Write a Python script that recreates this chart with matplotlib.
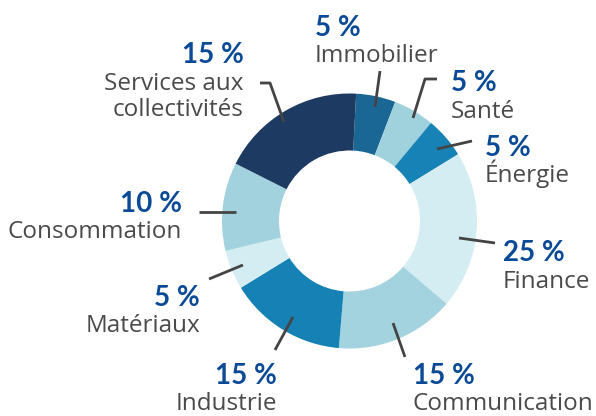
import matplotlib.pyplot as plt

# données du graphique (répartition sectorielle)
secteurs = ['Immobilier', 'Santé', 'Énergie', 'Finance', 'Communication',
            'Industrie', 'Matériaux', 'Consommation', 'Services aux\ncollectivités']
# valeurs affichées
pct_affiche = [5, 5, 5, 25, 15, 15, 5, 10, 15]
# taille des parts telle que dessinée dans l'original
parts = [5.0, 5.2, 5.2, 20.0, 15.1, 14.9, 5.0, 11.2, 18.4]
couleurs = ['#1a6796', '#a0d2de', '#1682b5', '#d4edf2', '#a2d3df',
            '#1681b4', '#d4edf2', '#a2d2de', '#1d3a63']

BLEU = '#0b4a96'
GRIS = '#4a4a4a'
LIGNE = '#444444'

plt.rcParams['font.family'] = ['Lato', 'DejaVu Sans']

fig = plt.figure(figsize=(5.96, 4.16), dpi=100)
ax = fig.add_axes([0, 0, 1, 1])

# donut : axe y inversé -> counterclock=True tourne dans le sens horaire à l'écran
ax.pie(parts, colors=couleurs, startangle=-87, counterclock=True,
       center=(349.5, 221), radius=127.5,
       wedgeprops=dict(width=57, edgecolor='none'))

# coordonnées en pixels, y vers le bas (après pie qui impose ses limites)
ax.set_xlim(0, 596)
ax.set_ylim(416, 0)
ax.set_aspect('equal')
ax.axis('off')

# position des étiquettes : (x, y baseline du %, alignement)
etiquettes = [
    (315, 36, 'left'),
    (451, 91, 'left'),
    (485, 156, 'left'),
    (503, 261, 'left'),
    (413, 384, 'left'),
    (277, 384, 'right'),
    (200, 306, 'right'),
    (182, 212, 'right'),
    (244, 63, 'right'),
]

# traits de rappel
traits = [
    [(380, 71), (375, 107)],
    [(437, 79), (425, 79), (413, 118)],
    [(472, 141), (437, 149)],
    [(495, 243), (459, 238)],
    [(405, 357), (393, 323)],
    [(275, 350), (293, 317)],
    [(209, 279), (243, 265)],
    [(199, 212), (236, 212)],
    [(260, 83), (270, 83), (284, 122)],
]

for nom, val, (x, y, ha), pts in zip(secteurs, pct_affiche, etiquettes, traits):
    ax.text(x, y, f'{val} %', color=BLEU, fontsize=20, fontweight='bold',
            ha=ha, va='baseline')
    lignes = nom.split('\n')
    for i, l in enumerate(lignes):
        ax.text(x, y + 26.5 * (i + 1), l, color=GRIS, fontsize=17.5,
                family=['Open Sans', 'DejaVu Sans'], ha=ha, va='baseline')
    xs, ys = zip(*pts)
    ax.plot(xs, ys, color=LIGNE, lw=2, solid_capstyle='butt')

fig.savefig('out.png', dpi=100)
